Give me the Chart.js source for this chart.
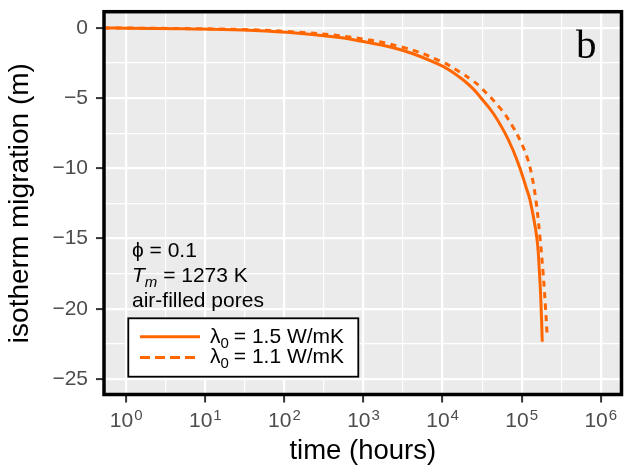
<!DOCTYPE html>
<html><head><meta charset="utf-8">
<script src="https://cdn.jsdelivr.net/npm/chart.js@4/dist/chart.umd.min.js"></script>
<style>html,body{margin:0;padding:0;background:#fff}canvas{display:block}</style>
</head><body>
<canvas id="c" width="625" height="468"></canvas>
<script>
// ---- data ----
const solidTime = [0.524, 1, 5.2, 30, 107, 500, 910, 3090, 9270, 16600, 24200, 29700, 43400, 61500, 77600, 95100, 113500, 127400, 154900, 167100, 175400, 182000];
const solidMigration = [-0.02, -0.03, -0.075, -0.16, -0.33, -0.70, -0.95, -1.60, -2.65, -3.54, -4.33, -4.91, -6.07, -7.50, -8.70, -10.0, -11.34, -12.26, -14.88, -17.25, -19.62, -22.35];
const dashedTime = [0.524, 1, 5.2, 30, 107, 617, 3090, 9330, 16600, 24000, 29500, 53700, 75900, 95500, 117500, 134900, 151400, 169800, 186200, 199500, 208900];
const dashedMigration = [-0.02, -0.025, -0.06, -0.13, -0.27, -0.64, -1.38, -2.37, -3.16, -3.77, -4.18, -5.74, -6.97, -8.02, -9.26, -10.57, -12.28, -14.85, -17.4, -19.8, -21.73];
const seriesLabels = ['= 1.5 W/mK', '= 1.1 W/mK'];
const xMajorTicks = [1, 10, 100, 1000, 10000, 100000, 1000000];
const xTickExponents = ['0', '1', '2', '3', '4', '5', '6'];
const xMinorTicks = [3.162, 31.62, 316.2, 3162, 31623, 316228];
const yMajorTicks = [0, -5, -10, -15, -20, -25];
const yMinorTicks = [-2.5, -7.5, -12.5, -17.5, -22.5];
const yTickLabels = ['0', '\u22125', '\u221210', '\u221215', '\u221220', '\u221225'];
const annotationLines = ['\u03D5 = 0.1', ' = 1273 K', 'air-filled pores'];

const ORANGE = '#FF6600';
const SANS = '"Liberation Sans", Arial, Helvetica, sans-serif';

const toPoints = (xs, ys) => xs.map((x, i) => ({x: x, y: ys[i]}));

const panelPlugin = {
  id: 'panel',
  beforeDraw(chart) {
    const {ctx, chartArea: a} = chart;
    ctx.save();
    ctx.fillStyle = '#EBEBEB';
    ctx.fillRect(a.left, a.top, a.right - a.left, a.bottom - a.top);
    ctx.restore();
  },
  afterDatasetsDraw(chart) {
    const {ctx, chartArea: a} = chart;
    ctx.save();
    // annotation text
    ctx.fillStyle = '#000';
    ctx.textBaseline = 'alphabetic';
    ctx.textAlign = 'left';
    ctx.font = '21px ' + SANS;
    ctx.fillText(annotationLines[0], 132, 257);
    ctx.font = 'italic 21px ' + SANS;
    ctx.fillText('T', 132, 282);
    let x = 132 + ctx.measureText('T').width;
    ctx.font = 'italic 15px ' + SANS;
    ctx.fillText('m', x, 287);
    x += ctx.measureText('m').width;
    ctx.font = '21px ' + SANS;
    ctx.fillText(annotationLines[1], x, 282);
    ctx.fillText(annotationLines[2], 132, 307);

    // legend box
    ctx.fillStyle = '#fff';
    ctx.fillRect(128.3, 318.3, 230, 58.4);
    ctx.strokeStyle = '#000';
    ctx.lineWidth = 1.8;
    ctx.strokeRect(128.3, 318.3, 230, 58.4);
    ctx.strokeStyle = ORANGE;
    ctx.lineWidth = 3;
    ctx.beginPath(); ctx.moveTo(140, 336.7); ctx.lineTo(200, 336.7); ctx.stroke();
    ctx.setLineDash([10, 5]);
    ctx.beginPath(); ctx.moveTo(140, 357.5); ctx.lineTo(195, 357.5); ctx.stroke();
    ctx.setLineDash([]);
    ctx.fillStyle = '#000';
    [342.5, 363].forEach((by, i) => {
      let lx = 210;
      ctx.font = '21px ' + SANS;
      ctx.fillText('\u03BB', lx, by);
      lx += ctx.measureText('\u03BB').width;
      ctx.font = '15px ' + SANS;
      ctx.fillText('0', lx, by + 5);
      lx += ctx.measureText('0').width + 5;
      ctx.font = '21px ' + SANS;
      ctx.fillText(seriesLabels[i], lx, by);
    });

    // panel letter
    ctx.font = '41px "Liberation Serif", "Times New Roman", serif';
    ctx.fillText('b', 576, 58);

    // panel border
    ctx.strokeStyle = '#000';
    ctx.lineWidth = 3.5;
    ctx.strokeRect(a.left, a.top, a.right - a.left, a.bottom - a.top);
    ctx.restore();
  },
  afterDraw(chart) {
    const {ctx} = chart;
    const xs = chart.scales.x;
    ctx.save();
    ctx.fillStyle = '#4D4D4D';
    ctx.textBaseline = 'alphabetic';
    ctx.textAlign = 'left';
    xMajorTicks.forEach((v, i) => {
      const px = xs.getPixelForValue(v);
      ctx.font = '21px ' + SANS;
      const w1 = ctx.measureText('10').width;
      ctx.font = '15px ' + SANS;
      const w2 = ctx.measureText(xTickExponents[i]).width;
      const start = px - (w1 + w2 + 1) / 2;
      ctx.font = '21px ' + SANS;
      ctx.fillText('10', start, xs.top + 32);
      ctx.font = '15px ' + SANS;
      ctx.fillText(xTickExponents[i], start + w1 + 1, xs.top + 25);
    });
    ctx.restore();
  }
};

const isMajorY = v => yMajorTicks.includes(v);
const isMajorX = v => xMajorTicks.includes(v);

new Chart(document.getElementById('c'), {
  type: 'line',
  data: {
    datasets: [
      {label: 'solid', data: toPoints(solidTime, solidMigration), borderColor: ORANGE, borderWidth: 3, pointRadius: 0, tension: 0.4, fill: false},
      {label: 'dashed', data: toPoints(dashedTime, dashedMigration), borderColor: ORANGE, borderWidth: 3, borderDash: [6, 5.5], pointRadius: 0, tension: 0.4, fill: false}
    ]
  },
  options: {
    responsive: false,
    animation: false,
    devicePixelRatio: 1,
    layout: {padding: {top: 11.7, right: 3.5, left: 0, bottom: 0}},
    plugins: {legend: {display: false}, tooltip: {enabled: false}},
    scales: {
      x: {
        type: 'logarithmic',
        min: Math.pow(10, -0.281),
        max: Math.pow(10, 6.262),
        border: {display: false},
        afterBuildTicks: s => { s.ticks = xMajorTicks.concat(xMinorTicks).map(v => ({value: v})); },
        afterFit: s => { s.height = 73.5; s.paddingLeft = 0; s.paddingRight = 0; },
        ticks: {display: false},
        grid: {
          color: '#FFFFFF',
          lineWidth: c => isMajorX(c.tick.value) ? 2.2 : 1.2,
          tickColor: c => isMajorX(c.tick.value) ? '#333333' : 'rgba(0,0,0,0)',
          tickWidth: 2,
          tickLength: 8,
          drawTicks: true
        },
        title: {display: true, text: 'time (hours)', color: '#000', font: {size: 27.5, family: SANS}, padding: {top: 0, bottom: 0}}
      },
      y: {
        type: 'linear',
        min: -26.1,
        max: 1.14,
        border: {display: false},
        afterBuildTicks: s => { s.ticks = yMajorTicks.concat(yMinorTicks).map(v => ({value: v})); },
        afterFit: s => { s.width = 104; s.paddingTop = 0; s.paddingBottom = 0; },
        ticks: {
          color: '#4D4D4D',
          font: {size: 21, family: SANS},
          padding: 8,
          callback: v => { const i = yMajorTicks.indexOf(v); return i >= 0 ? yTickLabels[i] : ''; }
        },
        grid: {
          color: '#FFFFFF',
          lineWidth: c => isMajorY(c.tick.value) ? 2.2 : 1.2,
          tickColor: c => isMajorY(c.tick.value) ? '#333333' : 'rgba(0,0,0,0)',
          tickWidth: 2,
          tickLength: 8,
          drawTicks: true
        },
        title: {display: true, text: 'isotherm migration (m)', color: '#000', font: {size: 28, family: SANS}, padding: {top: 3.8, bottom: 0}}
      }
    }
  },
  plugins: [panelPlugin]
});
</script>
</body></html>
